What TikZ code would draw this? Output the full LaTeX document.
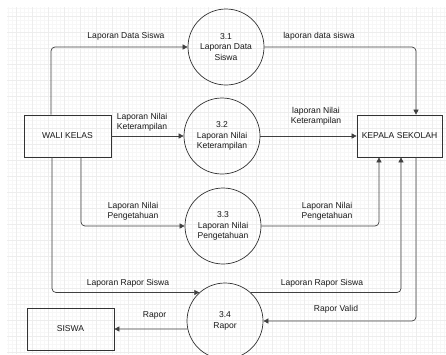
\documentclass[tikz,border=0pt]{standalone}
\usepackage{fontspec}
\setmainfont{Liberation Sans}
\usetikzlibrary{arrows.meta}
\begin{document}
\begin{tikzpicture}[x=0.03cm,y=-0.03cm]
\tikzstyle{every node}+=[inner sep=0pt, font=\fontsize{7.3}{8.8}\selectfont, align=center, text=black!90]
\tikzstyle{entity}=[draw=black!80, line width=0.6pt, rectangle, minimum width=2.61cm, minimum height=1.26cm]
\tikzstyle{process}=[draw=black!80, line width=0.6pt, circle, minimum size=2.28cm]
\tikzstyle{flow}=[draw=black!75, line width=0.6pt, rounded corners=0.12cm, -{Triangle[length=4.3pt,width=4.3pt]}]
\useasboundingbox (0,0) rectangle (446,354);
\fill [white] (0,0) rectangle (446,354);
\draw [black!3, step=0.12cm] (7,7) grid (446,354);
\draw [black!7, step=0.48cm] (7,7) grid (446,354);
\node [entity] (wali) at (67.5,136) {WALI KELAS};
\node [entity, minimum width=2.55cm] (kepala) at (399.5,136) {KEPALA SEKOLAH};
\node [entity] (siswa) at (70.5,329) {SISWA};
\node [process] (p31) at (226,47) {3.1\\Laporan Data\\Siswa};
\node [process] (p32) at (222,136) {3.2\\Laporan Nilai\\Keterampilan};
\node [process] (p33) at (223,226) {3.3\\Laporan Nilai\\Pengetahuan};
\node [process] (p34) at (225,321) {3.4\\Rapor};
\node (l31in) at (126,36) {Laporan Data Siswa};
\node (l31out) at (319,36) {laporan data siswa};
\node (l32in) at (142,122.5) {Laporan Nilai\\Keterampilan};
\node (l32out) at (316,116) {laporan Nilai\\Keterampilan};
\node (l33in) at (133,211.5) {Laporan Nilai\\Pengetahuan};
\node (l33out) at (327,211.5) {Laporan Nilai\\Pengetahuan};
\node (l34in) at (128,283) {Laporan Rapor Siswa};
\node (l34out) at (322,283) {Laporan Rapor Siswa};
\node (lvalid) at (336,309) {Rapor Valid};
\node (lrapor) at (154.5,315) {Rapor};
\draw [flow] (wali.north -| 51,0) |- (p31);
\draw [flow] (p31) -| (416,0 |- kepala.north);
\draw [flow] (wali) -- (p32);
\draw [flow] (p32) -- (kepala);
\draw [flow] (wali.south -| 81,0) |- (p33);
\draw [flow] (p33) -| (379,0 |- kepala.south);
\draw [flow] (wali.south -| 52,0) |- (p34.132);
\draw [flow] (p34.48) -| (401,0 |- kepala.south);
\draw [flow] (416,0 |- kepala.south) |- (p34);
\draw [flow] (p34.192) -- (siswa);
\end{tikzpicture}
\end{document}
